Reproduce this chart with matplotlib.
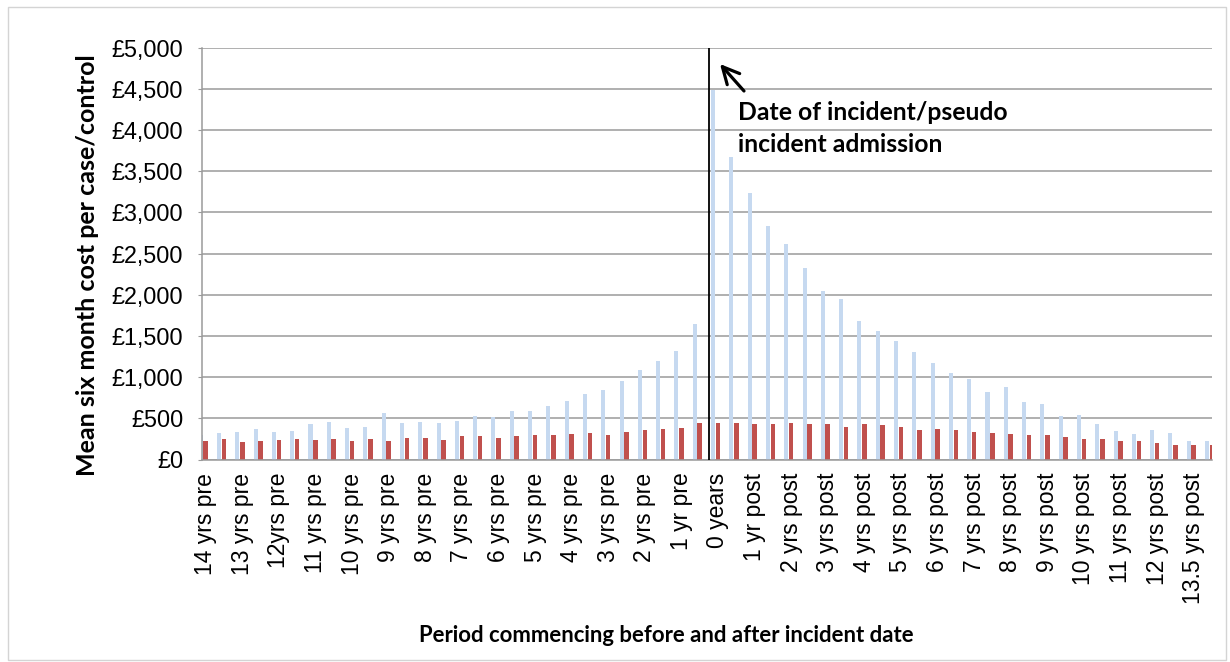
import matplotlib
matplotlib.use("Agg")
import matplotlib.pyplot as plt
import numpy as np
from matplotlib.patches import Rectangle
from matplotlib.ticker import FuncFormatter, MultipleLocator

# ---- data (six-month periods, 14 yrs pre ... 13.5 yrs post) ----
tick_labels = ["14 yrs pre", "13 yrs pre", "12yrs pre", "11 yrs pre", "10 yrs pre",
               "9 yrs pre", "8 yrs pre", "7 yrs pre", "6 yrs pre", "5 yrs pre",
               "4 yrs pre", "3 yrs pre", "2 yrs pre", "1 yr pre", "0 years",
               "1 yr post", "2 yrs post", "3 yrs post", "4 yrs post", "5 yrs post",
               "6 yrs post", "7 yrs post", "8 yrs post", "9 yrs post", "10 yrs post",
               "11 yrs post", "12 yrs post", "13.5 yrs post"]

cases = [300, 318, 337, 370, 337, 350, 431, 455, 378, 391, 560, 447, 459, 447,
         471, 532, 512, 588, 588, 649, 714, 795, 843, 953, 1090, 1190, 1320, 1650,
         4490, 3667, 3230, 2834, 2610, 2330, 2040, 1950, 1680, 1560, 1440, 1300,
         1170, 1050, 980, 825, 876, 702, 674, 528, 540, 427, 346, 306, 352, 320,
         222, 222]

controls = [228, 245, 216, 228, 237, 245, 237, 245, 228, 252, 221, 265, 265, 237,
            289, 282, 257, 289, 297, 297, 309, 322, 301, 337, 358, 374, 382, 439,
            439, 447, 431, 427, 439, 431, 427, 391, 431, 419, 391, 362, 366, 358,
            334, 325, 309, 301, 293, 269, 249, 245, 225, 225, 196, 182, 182, 174]

incident_pos = 27.5

# ---- figure ----
W, H = 1230, 662
fig = plt.figure(figsize=(W / 100, H / 100), dpi=100)
fig.patch.set_facecolor("white")
fig.patches.append(Rectangle((8 / W, 2 / H), 1218 / W, 653 / H, transform=fig.transFigure,
                             fill=False, edgecolor="#d4d4d4", lw=1.0))

left, right, bottom, top = 202, 1212, 459.5, 47.5
ax = fig.add_axes([left / W, 1 - bottom / H, (right - left) / W, (bottom - top) / H])

x = np.arange(len(controls))
blue = "#c6d9f0"
red = "#c0504d"
ax.bar(x - 0.27, cases, width=0.22, color=blue, zorder=2)
ax.bar(x, controls, width=0.25, color=red, zorder=2)

ax.set_xlim(-0.2, 55.0)
ax.set_ylim(0, 5000)
ax.yaxis.set_major_locator(MultipleLocator(500))
ax.yaxis.set_major_formatter(FuncFormatter(lambda v, p: "£{:,.0f}".format(v)))
ax.grid(axis="y", color="#9a9a9a", lw=1.1, zorder=1)
ax.set_axisbelow(True)

for s in ["top", "right"]:
    ax.spines[s].set_visible(False)
for s in ["left", "bottom"]:
    ax.spines[s].set_color("#9a9a9a")
    ax.spines[s].set_linewidth(1.1)

ax.set_xticks(x[::2])
ax.set_xticklabels(tick_labels, rotation=90, fontsize=16.5, family="Liberation Sans",
                   va="top", ha="center")
ax.tick_params(axis="x", length=0, pad=9.5)
ax.tick_params(axis="y", length=3, color="#9a9a9a", pad=10.5, labelsize=16.8)
for t in ax.get_yticklabels():
    t.set_family("Liberation Sans")

ax.axvline(incident_pos, color="black", lw=1.3, zorder=3)

# annotation
ax.annotate("", xy=(720 / W, 1 - 64 / H), xytext=(744 / W, 1 - 91 / H),
            xycoords="figure fraction", textcoords="figure fraction",
            arrowprops=dict(arrowstyle="->", color="black", lw=2.3, mutation_scale=30,
                            shrinkA=0, shrinkB=0))
fig.text(738 / W, 1 - 113 / H, "Date of incident/pseudo", fontsize=17.8,
         fontweight="bold", family="Lato", va="center", ha="left")
fig.text(738 / W, 1 - 145 / H, "incident admission", fontsize=17.8,
         fontweight="bold", family="Lato", va="center", ha="left")

fig.text(88 / W, 1 - 265 / H, "Mean six month cost per case/control", rotation=90,
         fontsize=18, fontweight="bold", family="Lato", va="center", ha="center")
fig.text(666 / W, 1 - 636 / H, "Period commencing before and after incident date",
         fontsize=15.9, fontweight="bold", family="Lato", va="center", ha="center")

fig.savefig("out.png", dpi=100, facecolor="white")
